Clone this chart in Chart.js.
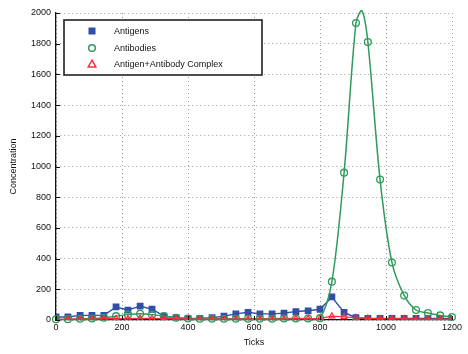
<!doctype html>
<html>
<head>
	<title>Concentration vs Ticks</title>
	<script src="https://cdn.jsdelivr.net/npm/chart.js@4/dist/chart.umd.min.js"></script>
	<style>
		body { margin: 0; background: #fff; }
		#holder { width: 468px; height: 354px; }
	</style>
</head>
<body>
	<div id="holder"><canvas id="chart-area"></canvas></div>
	<script>
		// sample positions (ticks) where the markers sit
		var ticks = [0, 36, 73, 109, 145, 182, 218, 255, 291, 327, 364, 400, 436, 473, 509, 545, 582,
			618, 655, 691, 727, 764, 800, 836, 873, 909, 945, 982, 1018, 1055, 1091, 1127, 1164, 1200];

		var antigens = [20, 20, 30, 30, 30, 85, 65, 90, 70, 25, 15, 10, 10, 15, 25, 40, 50,
			40, 40, 45, 55, 60, 70, 150, 50, 15, 10, 10, 10, 10, 10, 10, 10, 10];

		var antibodies = [5, 5, 8, 10, 15, 25, 35, 40, 35, 25, 15, 10, 8, 8, 8, 8, 8,
			8, 8, 10, 10, 10, 12, 250, 960, 1935, 1811, 915, 375, 160, 65, 45, 30, 20];

		// the antibody curve tops out between two markers
		var antibodyPeakTick = [927];
		var antibodyPeakValue = [2015];

		var complex = [0, 5, 5, 5, 8, 8, 8, 10, 10, 8, 8, 5, 5, 5, 5, 5, 5,
			5, 5, 5, 8, 8, 10, 25, 20, 15, 10, 8, 8, 8, 5, 5, 5, 5];

		var xTicks = [0, 200, 400, 600, 800, 1000, 1200];
		var yTicks = [0, 200, 400, 600, 800, 1000, 1200, 1400, 1600, 1800, 2000];

		var blue = '#2f4fa8';
		var green = '#2e9b5b';
		var red = '#f2303c';
		var font = '"Liberation Sans", Arial, sans-serif';

		function pts(values) {
			return values.map(function(v, i) { return { x: ticks[i], y: v, m: true }; });
		}

		var antibodyPts = pts(antibodies);
		antibodyPeakTick.forEach(function(t, i) {
			antibodyPts.push({ x: t, y: antibodyPeakValue[i], m: false });
		});
		antibodyPts.sort(function(a, b) { return a.x - b.x; });

		var legendBox = {
			id: 'legendBox',
			afterDatasetsDraw: function(chart) {
				var ctx = chart.ctx;
				var x = 64, y = 20, w = 198, h = 55;
				ctx.save();
				ctx.fillStyle = '#fff';
				ctx.fillRect(x, y, w, h);
				ctx.strokeStyle = '#222';
				ctx.lineWidth = 1.6;
				ctx.strokeRect(x, y, w, h);
				ctx.font = '9px ' + font;
				ctx.textBaseline = 'middle';
				var rows = [31, 48, 64];
				chart.data.datasets.forEach(function(ds, i) {
					var cy = rows[i], cx = 92;
					ctx.lineWidth = 1.5;
					ctx.strokeStyle = ds.borderColor;
					ctx.fillStyle = ds.borderColor;
					if (ds.pointStyle === 'rect') {
						ctx.fillRect(cx - 3.5, cy - 3.5, 7, 7);
					} else if (ds.pointStyle === 'circle') {
						ctx.beginPath();
						ctx.arc(cx, cy, 3.3, 0, Math.PI * 2);
						ctx.stroke();
					} else {
						ctx.beginPath();
						ctx.moveTo(cx, cy - 3.8);
						ctx.lineTo(cx + 3.8, cy + 3);
						ctx.lineTo(cx - 3.8, cy + 3);
						ctx.closePath();
						ctx.stroke();
					}
					ctx.fillStyle = '#111';
					ctx.fillText(ds.label, 114, cy + 0.5);
				});
				ctx.restore();
			},
			afterDraw: function(chart) {
				// inward tick marks like the original
				var ctx = chart.ctx, a = chart.chartArea;
				var sx = chart.scales.x, sy = chart.scales.y;
				ctx.save();
				ctx.strokeStyle = '#111';
				ctx.lineWidth = 1;
				ctx.beginPath();
				yTicks.forEach(function(t) {
					var py = Math.round(sy.getPixelForValue(t)) + 0.5;
					ctx.moveTo(a.left, py);
					ctx.lineTo(a.left + 4, py);
				});
				xTicks.forEach(function(t) {
					var px = Math.round(sx.getPixelForValue(t)) + 0.5;
					ctx.moveTo(px, a.bottom);
					ctx.lineTo(px, a.bottom - 4);
				});
				ctx.stroke();
				ctx.restore();
			}
		};

		function plain(v) { return String(v); }

		var config = {
			type: 'line',
			data: {
				datasets: [{
					label: 'Antigens',
					data: pts(antigens),
					borderColor: blue,
					backgroundColor: blue,
					pointStyle: 'rect',
					pointRadius: 3.8,
					borderWidth: 1.4,
					tension: 0,
					order: 2
				}, {
					label: 'Antibodies',
					data: antibodyPts,
					borderColor: green,
					backgroundColor: 'rgba(0,0,0,0)',
					pointStyle: 'circle',
					pointRadius: function(c) { return c.raw && c.raw.m === false ? 0 : 3.4; },
					pointBorderWidth: 1.3,
					borderWidth: 1.5,
					tension: 0.3,
					clip: 6,
					order: 1
				}, {
					label: 'Antigen+Antibody Complex',
					data: pts(complex),
					borderColor: red,
					backgroundColor: 'rgba(0,0,0,0)',
					pointStyle: 'triangle',
					pointRadius: 3.4,
					pointBorderWidth: 1.2,
					borderWidth: 1.3,
					tension: 0,
					order: 0
				}]
			},
			options: {
				responsive: true,
				maintainAspectRatio: false,
				animation: false,
				layout: { padding: { top: 13, right: 16, left: 8, bottom: 0 } },
				plugins: {
					legend: { display: false },
					tooltip: { enabled: false }
				},
				scales: {
					x: {
						type: 'linear',
						min: 0,
						max: 1200,
						afterBuildTicks: function(s) { s.ticks = xTicks.map(function(v) { return { value: v }; }); },
						afterFit: function(s) { s.height = 34; },
						ticks: { color: '#111', font: { size: 9, family: font }, padding: 2, maxRotation: 0, callback: plain },
						grid: { color: '#9a9a9a', drawTicks: false, lineWidth: 1 },
						border: { color: '#111', width: 1.3, dash: [1, 3] },
						title: { display: true, text: 'Ticks', color: '#111', font: { size: 9, family: font }, padding: { top: 2, bottom: 6 } }
					},
					y: {
						min: 0,
						max: 2000,
						afterBuildTicks: function(s) { s.ticks = yTicks.map(function(v) { return { value: v }; }); },
						afterFit: function(s) { s.width = 48; },
						ticks: { color: '#111', font: { size: 9, family: font }, padding: 5, callback: plain },
						grid: { color: '#9a9a9a', drawTicks: false, lineWidth: 1 },
						border: { color: '#111', width: 1.3, dash: [1, 3] },
						title: { display: true, text: 'Concentration', color: '#111', font: { size: 9, family: font }, padding: { top: 0, bottom: 4 } }
					}
				}
			},
			plugins: [legendBox]
		};

		window.onload = function() {
			var ctx = document.getElementById('chart-area').getContext('2d');
			window.myChart = new Chart(ctx, config);
		};
	</script>
</body>
</html>
